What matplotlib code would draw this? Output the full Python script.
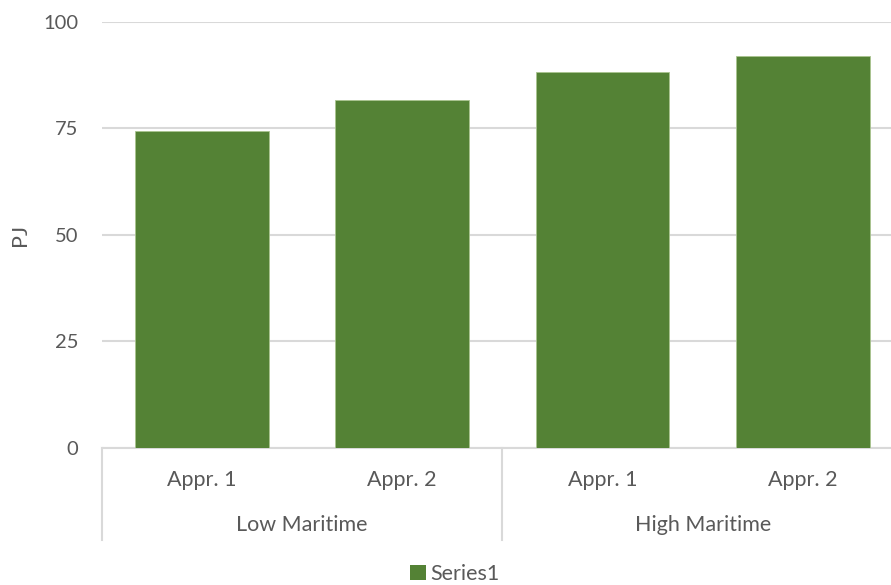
import matplotlib
matplotlib.use("Agg")
import matplotlib.pyplot as plt
from matplotlib.transforms import blended_transform_factory
from matplotlib.patches import Patch

plt.rcParams['font.family'] = ['Lato', 'DejaVu Sans']

# Data
groups = ["Low Maritime", "High Maritime"]
sub_labels = ["Appr. 1", "Appr. 2", "Appr. 1", "Appr. 2"]
values = [74.4, 81.7, 88.2, 91.9]
y_ticks = [0, 25, 50, 75, 100]
series_name = "Series1"
y_label = "PJ"

W, H = 891, 585
fig = plt.figure(figsize=(W / 100, H / 100), dpi=100)
left_px, right_px, top_px, bottom_px = 101.7, 903.0, 21.7, 447.7
ax = fig.add_axes([left_px / W, 1 - bottom_px / H,
                   (right_px - left_px) / W, (bottom_px - top_px) / H])

txt = "#595959"
grid = "#d9d9d9"
bar_color = "#548235"
fs = 15.5

x = list(range(len(values)))
ax.bar(x, values, width=0.667, color=bar_color, edgecolor="#a9c48f",
       linewidth=0.6, zorder=3)
ax.set_xlim(-0.5, len(values) - 0.5)
ax.set_ylim(0, 100)
ax.set_yticks(y_ticks)
ax.set_yticklabels([str(t) for t in y_ticks])
ax.tick_params(axis='y', length=0, pad=17, labelsize=14.5, labelcolor=txt)
ax.set_xticks([])
ax.yaxis.grid(True, color=grid, linewidth=1.5, zorder=0)
for s in ["top", "right", "left"]:
    ax.spines[s].set_visible(False)
ax.spines["bottom"].set_color(grid)
ax.spines["bottom"].set_linewidth(1.5)

tr = blended_transform_factory(ax.transData, fig.transFigure)
y_top = 1 - bottom_px / H
y_bot = 1 - 540 / H
n_per = len(values) // len(groups)
for k in range(len(groups) + 1):
    xs = k * n_per - 0.5
    ax.plot([xs, xs], [y_top, y_bot], transform=tr, color=grid,
            linewidth=1.5, clip_on=False)
for i, lab in enumerate(sub_labels):
    ax.text(i, 1 - 480 / H, lab, transform=tr, ha="center", va="center",
            fontsize=fs, color=txt)
for g, lab in enumerate(groups):
    ax.text(g * n_per + (n_per - 1) / 2, 1 - 525 / H, lab, transform=tr,
            ha="center", va="center", fontsize=fs, color=txt)

fig.text(20 / W, 1 - 234.7 / H, y_label, rotation=90, ha="center",
         va="center", fontsize=fs, color=txt)

fig.legend(handles=[Patch(facecolor=bar_color, label=series_name)],
           loc="center", bbox_to_anchor=(455 / W, 1 - 574 / H),
           frameon=False, fontsize=fs, labelcolor=txt,
           handlelength=0.75, handleheight=0.75, handletextpad=0.2,
           borderpad=0.1)

fig.savefig("out.png", dpi=100)
